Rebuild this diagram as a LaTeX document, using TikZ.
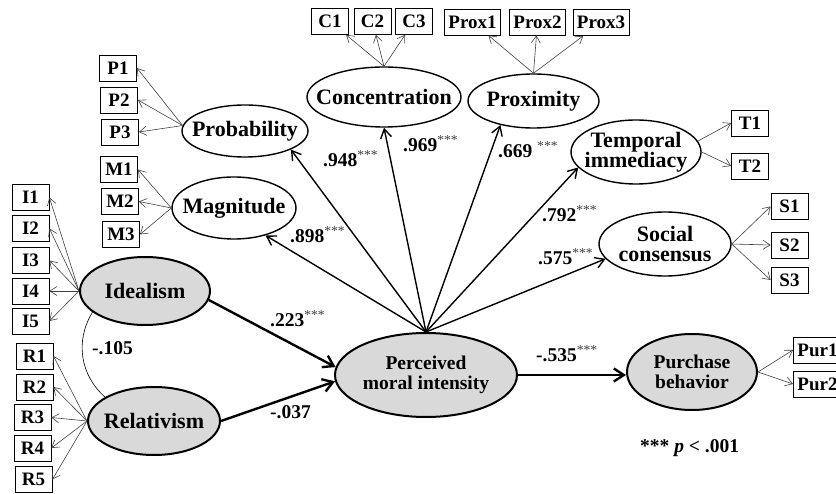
\documentclass[tikz,border=0pt]{standalone}
\usepackage{fontspec}
\setmainfont{Liberation Serif}
\usetikzlibrary{shapes.geometric,arrows.meta}
\newcommand{\sig}{\textsuperscript{\color{darkgray}\mdseries***}}

\begin{document}
\begin{tikzpicture}[x=1pt, y=-1pt,
    indicator/.style={draw, line width=0.8pt, font=\bfseries\fontsize{19}{19}\selectfont, minimum width=37pt, minimum height=26pt, inner xsep=4pt, inner ysep=0pt},
    factor/.style={ellipse, draw, line width=1.4pt, inner sep=0pt},
    latent/.style={factor, fill=gray!30, line width=2pt},
    lname/.style={font=\bfseries\fontsize{22}{20}\selectfont, align=center},
    sname/.style={font=\bfseries\fontsize{19.5}{20}\selectfont, align=center},
    loading/.style={-{Straight Barb[length=7pt,width=9pt]}, line width=0.6pt, black!75},
    structpath/.style={-{Straight Barb[length=9pt,width=11pt]}, line width=1.4pt},
    mainpath/.style={-{Straight Barb[length=10pt,width=13pt]}, line width=2.4pt},
    coef/.style={anchor=base west, inner sep=0pt, font=\bfseries\fontsize{19.5}{19.5}\selectfont}]

    % FRAME (pixel grid of the figure)
    \useasboundingbox (0,0) rectangle (836,494);
    \clip (0,0) rectangle (836,494);

    % MORAL INTENSITY DIMENSIONS
    \node[factor, minimum width=126pt, minimum height=52pt, label={[lname]center:Probability}] (prob) at (245,131) {};
    \node[factor, minimum width=154pt, minimum height=60pt, label={[lname]center:Concentration}] (conc) at (384,97) {};
    \node[factor, minimum width=131pt, minimum height=54pt, label={[lname]center:Proximity}] (prox) at (533.5,101) {};
    \node[factor, minimum width=130pt, minimum height=64pt, label={[lname]center:Temporal\\immediacy}] (temp) at (636,152) {};
    \node[factor, minimum width=132pt, minimum height=64pt, label={[lname]center:Social\\consensus}] (soc) at (665,244) {};
    \node[factor, minimum width=124pt, minimum height=62pt, label={[lname]center:Magnitude}] (mag) at (234,208) {};

    % ETHICAL IDEOLOGY, INTENSITY AND BEHAVIOR
    \node[latent, minimum width=130pt, minimum height=68pt, label={[lname]center:Idealism}] (ideal) at (145,291) {};
    \node[latent, minimum width=132pt, minimum height=68pt, label={[lname]center:Relativism}] (rel) at (154,421) {};
    \node[latent, minimum width=182pt, minimum height=84pt, label={[sname]center:Perceived\\moral intensity}] (pmi) at (426,375) {};
    \node[latent, minimum width=130pt, minimum height=76pt, label={[sname]center:Purchase\\behavior}] (pur) at (692,372) {};

    % ITEMS ABOVE
    \node[indicator] (c1) at (330,21.5) {C1};
    \node[indicator] (c2) at (372.5,21.5) {C2};
    \node[indicator] (c3) at (414,21.5) {C3};
    \node[indicator] (px1) at (472.5,22) {Prox1};
    \node[indicator] (px2) at (537.5,22) {Prox2};
    \node[indicator] (px3) at (601,22.5) {Prox3};

    % ITEMS ON THE LEFT
    \node[indicator] (p1) at (118,68) {P1};
    \node[indicator] (p2) at (119,100) {P2};
    \node[indicator] (p3) at (120,132) {P3};
    \node[indicator] (m1) at (119,169.5) {M1};
    \node[indicator] (m2) at (120,201.5) {M2};
    \node[indicator] (m3) at (121,234.5) {M3};
    \node[indicator] (i1) at (30.5,197.5) {I1};
    \node[indicator] (i2) at (30.5,228.5) {I2};
    \node[indicator] (i3) at (30.5,260.5) {I3};
    \node[indicator] (i4) at (30.5,291) {I4};
    \node[indicator] (i5) at (30.5,321) {I5};
    \node[indicator] (r1) at (34.5,356) {R1};
    \node[indicator] (r2) at (34.5,387) {R2};
    \node[indicator] (r3) at (32.5,417.5) {R3};
    \node[indicator] (r4) at (32.5,448) {R4};
    \node[indicator] (r5) at (33.5,479.5) {R5};

    % ITEMS ON THE RIGHT
    \node[indicator] (t1) at (750,123) {T1};
    \node[indicator] (t2) at (750,166) {T2};
    \node[indicator] (s1) at (789.5,206.5) {S1};
    \node[indicator] (s2) at (789.5,245) {S2};
    \node[indicator] (s3) at (789.5,280) {S3};
    \node[indicator, anchor=west] (pu1) at (793,350) {Pur1};
    \node[indicator, anchor=west] (pu2) at (793,384) {Pur2};

    % LOADINGS
    \draw[loading] (conc.north) -- (c1);
    \draw[loading] (conc.north) -- (c2);
    \draw[loading] (conc.north) -- (c3);
    \draw[loading] (prox.north) -- (px1);
    \draw[loading] (prox.north) -- (px2);
    \draw[loading] (prox.north) -- (px3);
    \draw[loading] (prob.175) -- (p1.east);
    \draw[loading] (prob.175) -- (p2.east);
    \draw[loading] (prob.175) -- (p3.east);
    \draw[loading] (mag.west) -- (m1.east);
    \draw[loading] (mag.west) -- (m2.east);
    \draw[loading] (mag.west) -- (m3.east);
    \draw[loading] (ideal.west) -- (i1.east);
    \draw[loading] (ideal.west) -- (i2.east);
    \draw[loading] (ideal.west) -- (i3.east);
    \draw[loading] (ideal.west) -- (i4.east);
    \draw[loading] (ideal.west) -- (i5.east);
    \draw[loading] (rel.west) -- (r1.east);
    \draw[loading] (rel.west) -- (r2.east);
    \draw[loading] (rel.west) -- (r3.east);
    \draw[loading] (rel.west) -- (r4.east);
    \draw[loading] (rel.west) -- (r5.east);
    \draw[loading] (temp.10) -- (t1.west);
    \draw[loading] (temp.east) -- (t2.west);
    \draw[loading] (soc.east) -- (s1.west);
    \draw[loading] (soc.east) -- (s2.west);
    \draw[loading] (soc.east) -- (s3.west);
    \draw[loading] (pur.east) -- (pu1.west);
    \draw[loading] (pur.east) -- (pu2.west);

    % SECOND ORDER PATHS
    \draw[structpath] (pmi.north) -- (prob.-22);
    \draw[structpath] (pmi.north) -- (conc.south);
    \draw[structpath] (pmi.north) -- (prox.-144);
    \draw[structpath] (pmi.north) -- (temp.-165);
    \draw[structpath] (pmi.north) -- (soc.-166);
    \draw[structpath] (pmi.north) -- (mag.-41);

    % STRUCTURAL PATHS
    \draw[mainpath] (ideal.-8) -- (pmi.175);
    \draw[mainpath] (rel.east) -- (pmi.184);
    \draw[mainpath] (pmi.east) -- (pmi.east -| pur.west);
    \draw[line width=0.6pt] (ideal.-158) to[bend right=40] (rel.154);

    % COEFFICIENTS
    \node[coef] (b-prob) at (323,167) {.948\sig};
    \node[coef] (b-conc) at (403,152) {.969\sig};
    \node[coef] (b-prox) at (498,158) {.669 \sig};
    \node[coef] (b-temp) at (542,222) {.792\sig};
    \node[coef] (b-soc) at (538,265) {.575\sig};
    \node[coef] (b-mag) at (290,243) {.898\sig};
    \node[coef] (b-ideal) at (270,327) {.223\sig};
    \node[coef] (b-rel) at (270,418) {-.037};
    \node[coef] (r-ir) at (92,355) {-.105};
    \node[coef] (b-pur) at (536,362) {-.535\sig};
    \node[coef] (note) at (640,453) {*** \textit{p} < .001};
\end{tikzpicture}
\end{document}
